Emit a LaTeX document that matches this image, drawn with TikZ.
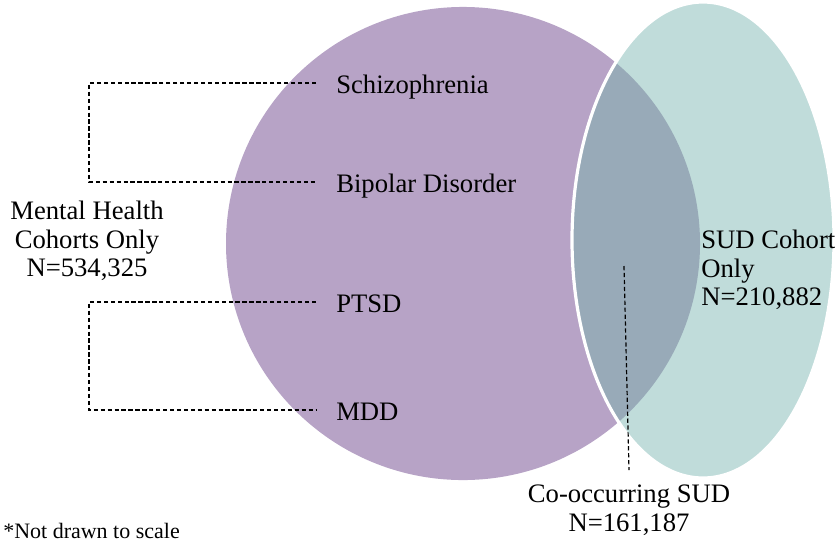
\documentclass[tikz,border=0pt]{standalone}
\usepackage{fontspec}
\setmainfont{Liberation Serif}
\definecolor{mhpurple}{HTML}{B7A3C6}
\definecolor{sudteal}{HTML}{C0DCDA}
\definecolor{overlapc}{HTML}{98AAB8}
\begin{document}
\begin{tikzpicture}[x=0.75pt,y=-0.75pt,
  lbl/.style={font=\fontsize{20}{21.5}\selectfont, inner sep=0pt},
  item/.style={lbl, anchor=west, inner xsep=15pt, text height=15pt, text depth=0pt},
  link/.style={draw=black, dash pattern=on 3.2pt off 2pt, line width=0.9pt},
  mhcirc/.style={x radius=177.75pt, y radius=177.4pt},
  sudell/.style={x radius=98.25pt, y radius=178.5pt}]
\useasboundingbox (0,0) rectangle (837,544);
% sets
\fill[mhpurple] (463,243.5) ellipse [mhcirc];
\fill[sudteal] (703,240) ellipse [sudell];
\begin{scope}
  \clip (463,243.5) ellipse [mhcirc];
  \fill[overlapc] (703,240) ellipse [sudell];
\end{scope}
\draw[white, line width=2.4pt] (703,240) ellipse [sudell];
% labels
\node[item] (schizo) at (316,83) {Schizophrenia};
\node[item] (bipolar) at (316,182) {Bipolar Disorder};
\node[item] (ptsd) at (316,302) {PTSD};
\node[item] (mdd) at (316,410) {MDD};
\node[lbl, align=center] (mh) at (87,241) {Mental Health\\Cohorts Only\\N=534,325};
\node[lbl, align=left, anchor=west] (sud) at (701,270) {SUD Cohort\\Only\\N=210,882};
\node[lbl, align=center, anchor=north, inner ysep=11pt] (cooc) at (629,470) {Co-occurring SUD\\N=161,187};
\node[font=\fontsize{16.5}{18}\selectfont, anchor=base west, inner sep=0pt] (note) at (3,538) {*Not drawn to scale};
% connectors
\coordinate (mhtop) at (89,132);
\coordinate (mhbot) at (89,356);
\coordinate (ctop) at (624,266);
\draw[link] (schizo.west) -| (mhtop) |- (bipolar.west);
\draw[link] (ptsd.west) -| (mhbot) |- (mdd.west);
\draw[link] (ctop) -- (cooc.north);
\end{tikzpicture}
\end{document}
